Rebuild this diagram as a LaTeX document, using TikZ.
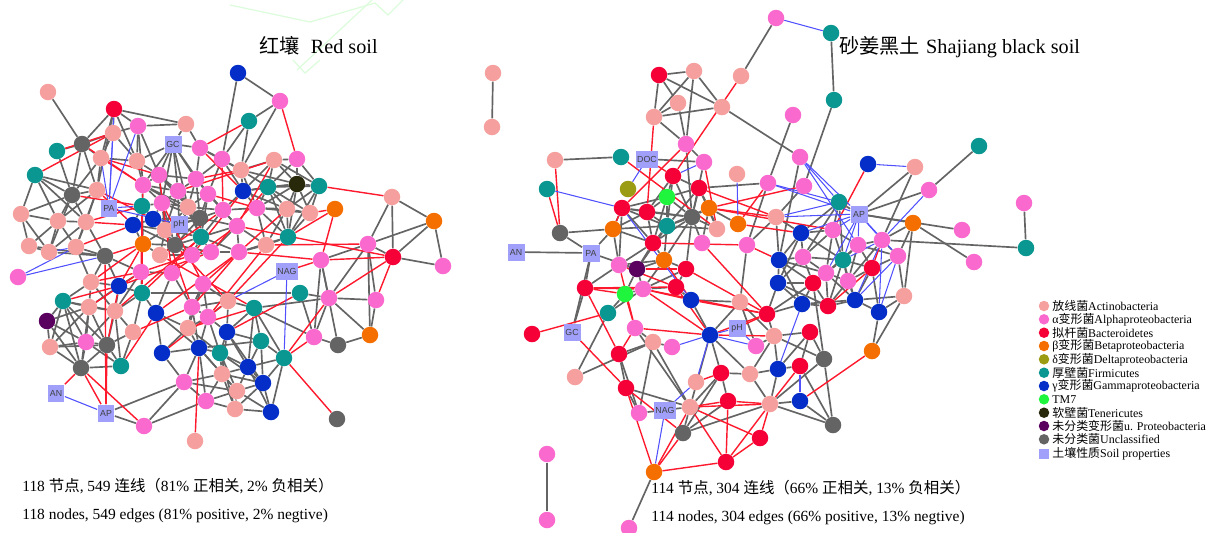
\documentclass[tikz,border=0pt]{standalone}
\usepackage{fontspec}
\setmainfont{Liberation Serif}
\newfontfamily\cjk{Noto Sans CJK SC}
\newfontfamily\arial{Liberation Sans}
\usetikzlibrary{backgrounds}
\definecolor{cAc}{RGB}{245,160,158}
\definecolor{cAl}{RGB}{250,105,205}
\definecolor{cBa}{RGB}{245,0,55}
\definecolor{cBe}{RGB}{245,110,0}
\definecolor{cDe}{RGB}{155,155,20}
\definecolor{cFi}{RGB}{10,150,145}
\definecolor{cGa}{RGB}{5,45,200}
\definecolor{cTM}{RGB}{30,245,60}
\definecolor{cTe}{RGB}{40,40,10}
\definecolor{cUP}{RGB}{90,0,95}
\definecolor{cUn}{RGB}{100,100,100}
\definecolor{cSP}{RGB}{160,160,250}
\definecolor{cEg}{RGB}{100,100,100}
\definecolor{cEr}{RGB}{255,25,45}
\definecolor{cEb}{RGB}{80,80,255}
\definecolor{cWm}{RGB}{220,252,220}
\begin{document}
\begin{tikzpicture}[x=0.02cm,y=-0.02cm,
  tx/.style={circle,minimum size=0.33cm,inner sep=0pt,draw=none},
  spbox/.style={rectangle,fill=cSP,minimum width=0.34cm,minimum height=0.34cm,inner sep=0.6pt,font=\arial\fontsize{5}{5}\selectfont,text=black!75},
  eg/.style={draw=cEg,line width=0.95pt},
  er/.style={draw=cEr,line width=0.8pt},
  eb/.style={draw=cEb,line width=0.6pt},
  ttl/.style={inner sep=0pt,font=\fontsize{11.5}{13}\selectfont},
  btx/.style={inner sep=0pt,font=\fontsize{8.8}{10}\selectfont},
  lgd/.style={circle,minimum size=0.21cm,inner sep=0pt,draw=none},
  lgt/.style={anchor=west,inner sep=0pt,font=\fontsize{6.8}{7}\selectfont},
  wm/.style={draw=cWm,line width=0.7pt}]
\useasboundingbox (0,0) rectangle (1214,532);
% faint watermark
\draw[wm] (230,5) -- (310,22) -- (375,3) -- (388,15) -- (403,0);
\draw[wm] (297,70) -- (372,0);
\draw[wm] (293,60) -- (305,73) -- (320,60);
% ---------- left network nodes ----------
\foreach \n/\c/\x/\y in {L1/cGa/238/73, L2/cAl/280/101, L3/cAc/48/92, L4/cBa/114/109, L5/cAl/138/126, L6/cAc/113/133, L7/cAc/186/124, L8/cFi/249/121, L9/cUn/82/144, L10/cFi/57/151, L12/cAl/200/148, L13/cAl/222/159, L14/cAc/101/158, L15/cAc/137/161, L16/cAc/241/170, L17/cAc/274/160, L18/cAl/297/159, L19/cFi/35/175, L20/cUn/72/195, L21/cAc/97/190, L22/cAl/143/185, L23/cAl/159/175, L24/cAl/178/191, L25/cAl/196/179, L26/cAl/208/194, L27/cGa/243/191, L28/cFi/268/187, L29/cTe/297/184, L30/cFi/319/186, L31/cAc/392/197, L33/cFi/142/206, L34/cAl/162/203, L35/cAc/188/207, L36/cAl/223/210, L37/cAl/257/208, L38/cAc/287/209, L39/cAc/310/213, L40/cBe/335/209, L41/cBe/434/221, L42/cAc/21/214, L43/cAc/58/221, L44/cAc/86/222, L45/cGa/133/225, L46/cGa/153/219, L48/cAc/165/230, L49/cUn/200/218, L50/cAl/237/226, L51/cFi/201/237, L52/cFi/288/237, L53/cBe/143/244, L54/cUn/175/245, L55/cAc/29/246, L56/cAc/49/252, L57/cAc/76/247, L58/cUn/105/256, L59/cAc/160/255, L60/cAl/192/255, L61/cAl/211/252, L62/cAl/239/252, L63/cAc/266/245, L64/cAl/368/244, L65/cBa/393/257, L66/cAl/321/260, L67/cAl/443/266, L68/cAl/18/277, L69/cAc/91/282, L70/cAl/141/272, L71/cAl/172/273, L72/cAl/203/284, L74/cGa/119/286, L75/cFi/142/293, L76/cFi/63/301, L77/cAc/89/307, L78/cAc/115/311, L79/cGa/156/313, L80/cAl/192/307, L81/cAc/228/301, L82/cFi/254/308, L83/cFi/300/293, L84/cAl/329/298, L85/cAl/376/300, L86/cUP/47/321, L87/cAc/133/332, L88/cAc/188/328, L89/cAl/208/317, L90/cGa/227/332, L91/cFi/261/341, L92/cAl/314/337, L93/cUn/338/345, L94/cBe/370/335, L95/cAc/50/347, L96/cAl/86/342, L97/cUn/107/345, L98/cGa/162/353, L99/cGa/199/348, L100/cFi/220/353, L101/cFi/284/358, L102/cUn/81/368, L103/cFi/121/366, L104/cGa/248/367, L105/cAc/222/374, L106/cGa/263/383, L107/cAl/184/382, L108/cAc/237/391, L109/cAl/206/401, L110/cAc/235/409, L111/cGa/271/412, L112/cUn/337/419, L115/cAl/144/426, L116/cAc/195/441}
  {\node[tx,fill=\c] (\n) at (\x,\y) {};}
\node[spbox] (LGC) at (173,144) {GC};
\node[spbox] (LPA) at (109,208) {PA};
\node[spbox] (LpH) at (179,224) {pH};
\node[spbox] (LNAG) at (287,271) {NAG};
\node[spbox] (LAN) at (56,393) {AN};
\node[spbox] (LAP) at (106,413) {AP};
% ---------- right network nodes ----------
\foreach \n/\c/\x/\y in {R1/cAl/776/18, R2/cFi/831/33, R3/cBa/659/75, R4/cAc/694/71, R5/cAc/741/76, R6/cAc/678/103, R7/cAc/654/117, R8/cAc/722/107, R9/cFi/834/100, R10/cAl/793/115, R11/cAl/686/144, R12/cAc/555/160, R13/cFi/621/157, R15/cAl/704/162, R16/cAl/800/157, R17/cGa/868/164, R18/cFi/979/146, R19/cAc/915/167, R20/cFi/547/189, R21/cDe/628/189, R22/cBa/673/176, R23/cTM/667/197, R24/cBa/699/188, R25/cAc/737/174, R26/cAl/768/183, R27/cAl/804/186, R28/cAl/929/190, R29/cAl/1024/203, R30/cBa/622/208, R31/cBa/647/212, R32/cUn/692/217, R33/cBe/709/208, R34/cFi/839/202, R36/cBe/613/229, R37/cFi/667/226, R38/cAc/717/229, R39/cBe/738/224, R40/cAc/776/217, R41/cGa/801/233, R42/cAl/833/230, R43/cBe/913/223, R44/cAl/962/230, R45/cUn/560/233, R46/cAl/882/240, R49/cBa/653/243, R50/cAl/702/243, R51/cAl/747/245, R52/cAl/858/245, R53/cFi/1026/248, R54/cAl/974/262, R55/cBe/664/260, R56/cAl/619/265, R57/cUP/637/269, R58/cBa/686/269, R59/cGa/779/260, R60/cAl/803/257, R61/cFi/843/260, R62/cAl/898/256, R63/cBa/872/268, R64/cBa/585/288, R65/cTM/625/294, R66/cAl/643/289, R67/cBa/676/287, R68/cGa/691/300, R69/cGa/778/283, R70/cBa/813/283, R71/cAl/826/273, R72/cAl/848/281, R73/cGa/855/300, R74/cGa/802/304, R75/cBa/828/306, R76/cGa/879/312, R77/cAc/904/296, R78/cAc/740/302, R79/cFi/608/313, R80/cBa/532/334, R82/cAl/635/328, R83/cAc/653/342, R84/cAl/672/347, R85/cGa/710/335, R87/cBa/767/314, R88/cAl/756/346, R89/cAc/774/336, R90/cBa/810/332, R91/cUn/824/359, R92/cBe/872/351, R93/cBa/619/354, R94/cAc/575/377, R95/cBa/626/388, R96/cAc/696/382, R97/cBa/721/373, R98/cAc/750/374, R99/cGa/778/369, R100/cBa/800/366, R101/cGa/800/401, R102/cBa/728/401, R103/cAc/690/407, R104/cAc/770/404, R105/cAl/639/413, R107/cUn/683/433, R108/cUn/833/425, R109/cBa/760/438, R110/cBa/726/462, R111/cBe/654/472, R112/cAl/547/454, R113/cAl/547/520, R114/cAl/629/528, P1/cAc/493/73, P2/cAc/492/127}
  {\node[tx,fill=\c] (\n) at (\x,\y) {};}
\node[spbox] (RDOC) at (647,159) {DOC};
\node[spbox] (RAP) at (859,214) {AP};
\node[spbox] (RAN) at (516,252) {AN};
\node[spbox] (RPA) at (591,253) {PA};
\node[spbox] (RGC) at (572,332) {GC};
\node[spbox] (RpH) at (737,328) {pH};
\node[spbox] (RNAG) at (665,410) {NAG};
% ---------- edges ----------
\begin{pgfonlayer}{background}
% left gray
\foreach \s/\tl in {L1/{L2,L13}, L2/{L8,L16}, L3/{L9}, L4/{L5,L6,L9,L14,L15,L7,L21}, L5/{L7,L15,L22,L6,L23}, L6/{L9,L14,L15}, L7/{LGC,L12}, L8/{L16,L13}, L9/{L20,L21,L10,L14}, L10/{L20}, L19/{L20,L42,L43,L21,L44}, L20/{L42,L43,L44,L21,L14,L56}, L21/{L43,L44,L14,L57}, L42/{L43,L55,L56}, L43/{L56,L57,L44,L55}, L44/{L57,L58,L56}, L55/{L56,L58}, L56/{L58}, L57/{L58,L69}, LGC/{L22,L23,L24,L25,L12,L26,L15,L34,L35}, L12/{L13,L25,L16}, L13/{L16,L25,L26,L27}, L14/{L15}, L15/{L22,L23}, L22/{L23,L24,L33,L34,L35,L49}, L23/{L24,L25,L34,L49,L35}, L24/{L25,L26,L34,L35,L49,L48,L51}, L25/{L26,L35,L49,L36}, L26/{L35,L36,L49,L51,L50}, L33/{L34,L45,L46,L48,L53}, L34/{L35,L46,L48,L49,L54}, L35/{L36,L49,L51,L48,L54}, L36/{L49,L50,L51,L37}, L45/{L46,L53,L48,L54}, L46/{L48,L49,L54}, L48/{L49,L51,L54,L53,L59}, L49/{L50,L51,L54}, L50/{L51,L62,L61}, L51/{L54,L60,L61,L62}, L53/{L54,L59}, L54/{L59,L60,L61}, L59/{L60}, L60/{L61}, L61/{L62}, LpH/{L46,L48,L49,L24,L35,L51,L54}, L16/{L17,L27,L28,L29,L37}, L17/{L28,L29,L27,L30,L18}, L18/{L29,L30,L28}, L27/{L28,L29,L37,L38,L36}, L28/{L29,L30,L37,L38,L39,L52}, L29/{L30,L38,L39,L37,L52}, L30/{L38,L39,L52}, L37/{L38,L52,L63,L39}, L38/{L39,L52,L63}, L39/{L52}, L52/{L63,L62}, L63/{L62,L50}, L31/{L41,L64,L65}, L41/{L64,L67,L65}, L64/{L65,L84,L85,L94,L66}, L85/{L94,L84}, L84/{L94,L92,L66}, L66/{L92,L93}, L92/{L93}, L93/{L94}, L67/{L65}, L58/{L69,L70,L74}, L69/{L74,L76,L77,L78}, L70/{L74,L75,L78,L71}, L74/{L75,L78,L77}, L75/{L78,L79,L87,L83}, L76/{L77,L86,L95,L96,L97,L102,L78}, L77/{L78,L86,L95,L96,L97,L102}, L78/{L87,L96,L97,L103}, L86/{L95,L96,L102}, L95/{L96,L102,L97}, L96/{L97,L102,L103}, L97/{L102,L103,L87}, L102/{L103}, L87/{L103}, L72/{L80,L81,L89,L88}, L71/{L79,L80}, L79/{L98,L88,L99}, L80/{L81,L88,L89,L99}, L81/{L82,L89,L90}, L82/{L90,L91,L104,L101,L84,L92}, L88/{L89,L99,L100,L98}, L89/{L90,L99,L100}, L90/{L91,L100,L104,L105,L106}, L91/{L101,L104,L106,L99}, L98/{L99,L107}, L99/{L100,L105,L107,L108,L109}, L100/{L104,L105,L106,L108,L110}, L101/{L104,L106,L111}, L104/{L105,L106,L108,L111}, L105/{L106,L108,L109,L110,L107}, L106/{L108,L111,L110}, L107/{L108,L109,LAP,L115}, L108/{L109,L110,L111}, L109/{L110,L115}, L110/{L111}, L83/{L92,L84}, LAP/{L115}}
  {\foreach \t in \tl {\draw[eg] (\s) -- (\t);}}
% left red
\foreach \s/\tl in {L2/{L18}, L8/{L12}, L19/{L6}, L14/{L22,L23}, L9/{L22}, L21/{L45}, L44/{L45,L33}, L57/{L45}, L58/{L53}, L69/{L53,L70}, L76/{L74}, L77/{L70}, L97/{L74}, L50/{L65,L17}, L30/{L31}, L65/{L84,L66,L85}, L63/{L64}, L62/{L38,L66}, L61/{L28}, L60/{L27}, L59/{L36}, L71/{L50}, L72/{L62}, L80/{L62}, L81/{L52}, L89/{L63}, L75/{L51}, L70/{L60}, L74/{L61}, L78/{L51}, L79/{L62}, L87/{L80}, L98/{L81}, L103/{L79}, L88/{L82}, L90/{L83}, L101/{L84,L92,L112}, L12/{L27}, L13/{L36}, L25/{L16}, L26/{L37}, L24/{L17}, L22/{L70}, L23/{L71}, L34/{L72}, L33/{L75}, L53/{L74}, L48/{L80}, L59/{L82}, L54/{L81}, L40/{L39,L66,L52}, L102/{LAN,LAP,L115}, L97/{LAP}, L58/{LAP}, L116/{L99}, L66/{LNAG}, L46/{L21}, L20/{L33}, L10/{L6}}
  {\foreach \t in \tl {\draw[er] (\s) -- (\t);}}
% left blue
\foreach \s/\tl in {L4/{LPA}, L5/{LPA}, L6/{LPA}, L14/{LPA}, LPA/{L33,LpH}, L68/{L58,L57}, LAN/{LAP}, LNAG/{L81,L101}, L56/{L57}}
  {\foreach \t in \tl {\draw[eb] (\s) -- (\t);}}
% right gray
\foreach \s/\tl in {R1/{R5}, R2/{R9}, R3/{R4,R7,R6,R8}, R4/{R7,R8,R11}, R6/{R7,R11}, R7/{R8,R11}, R8/{R16}, R9/{R27}, R10/{R26}, R11/{R15,R32}, R12/{R13}, R15/{RDOC,R32}, R16/{R59}, R18/{R28}, R19/{R46}, R28/{RAP}, R29/{R53}, R44/{RAP}, R53/{R46}, R54/{R43}, R32/{R22,R23,R24,R30,R31,R33,R37,R38,R49,R55,R58,R50}, R22/{R23,R24,R31,R37}, R23/{R24,R31,R37,R30,R49}, R24/{R33,R37,R38}, R30/{R31,R36,R37,R49,R56}, R31/{R37,R49,R36}, R33/{R37,R38,R39,R50}, R36/{R37,R49,R45,R56}, R37/{R49,R55,R57,R38}, R49/{R55,R56,R57}, R55/{R57,R58,R56,R66}, R56/{R57,R64}, R57/{R65,R66}, R58/{R67,R66}, R65/{R66,R79}, R66/{R67}, R67/{R68}, R45/{RPA}, RAN/{RPA}, RPA/{R64,RGC,R36,R57}, RGC/{R64}, R79/{R94,R66}, R82/{R83,R103}, R83/{R103,R84,R105}, R93/{R95,R105,R83}, R95/{R105,R103}, R94/{R83}, R85/{R68,R97,R98,R103}, R103/{RNAG,R97,R107}, RNAG/{R105}, R107/{R97,R102,R104}, R104/{R108,R99,R98,R91}, R97/{R98,R102}, R98/{R99,R89}, R99/{R100,R90,R89}, R100/{R90,R108}, R101/{R104,R108}, R91/{R90,R108,R89,R70}, R88/{R89,R78}, R89/{R90,R78,R87}, R87/{R69,R70,R74}, R78/{R68,R51,R85}, RAP/{R34,R43,R19}, R34/{R41,R42,R60,R61}, R40/{R41,R59,R51}, R41/{R42,R59,R60,R61,R69}, R42/{R52,R60,R61,R71}, R46/{R52,R62,R72,R43}, R52/{R61,R62,R63,R72,R71}, R59/{R60,R69,R70,R74,R71}, R60/{R61,R71,R69,R70}, R61/{R71,R72,R73,R63,R75}, R62/{R63,R77}, R63/{R72,R73,R76}, R69/{R70,R74,R75}, R70/{R71,R74,R75}, R71/{R72,R75,R73}, R72/{R73,R75}, R73/{R75,R76,R77,R74}, R74/{R75}, R76/{R92,R77}, R43/{R62,R77}, R92/{R77}, R112/{R113}, R111/{R114}, P1/{P2}, R26/{R24,R51}, R27/{R40}}
  {\foreach \t in \tl {\draw[eg] (\s) -- (\t);}}
% right red
\foreach \s/\tl in {R5/{R22}, R7/{R31}, R11/{R30}, R12/{R45}, R13/{R38}, R15/{R38}, R17/{R42}, R20/{R45}, R26/{R39}, R27/{R33}, RDOC/{R22}, R46/{R63}, R63/{R75}, R92/{R101}, R80/{R79}, RGC/{R95}, R95/{R107,R111}, R64/{R65,R66,R67,R93}, R65/{R82}, R66/{R68,R85,R87}, R67/{R85}, R56/{R82,R67}, R57/{R58}, R58/{R87}, R55/{R68}, R82/{R85,R93}, R85/{R87,R89}, R103/{R102,R109,R104,R110,R111}, R107/{R111}, R104/{R102,R109,R110,R100}, R110/{R109,R111,R102}, R97/{R96}, R87/{RpH}, R50/{R87}, R33/{R40,R42}, R39/{R41}, R51/{R59}, R49/{R51}, R30/{R36}, R68/{R87}, R24/{R40}}
  {\foreach \t in \tl {\draw[er] (\s) -- (\t);}}
% right blue
\foreach \s/\tl in {R1/{R2}, R16/{R34,RAP,R52}, R17/{R19}, R28/{R46}, R25/{R39}, R21/{RDOC}, R20/{R30}, R30/{R68}, R22/{R15}, RAP/{R42,R46,R52,R61,R62,R41,R40,R71,R26}, R34/{R40,R26}, R46/{R61,R73,R76}, R62/{R73,R76}, R84/{R85}, R85/{RpH,R96}, R88/{RpH,R85}, R99/{R74}, R100/{R101}, RNAG/{R111,R96}}
  {\foreach \t in \tl {\draw[eb] (\s) -- (\t);}}
\end{pgfonlayer}
% ---------- titles and captions ----------
\node[ttl,anchor=base west] (ttlL) at (259,53) {{\cjk 红壤}\hspace{0.55em}Red soil};
\node[ttl,anchor=base west] (ttlR) at (839,53) {{\cjk 砂姜黑土}\hspace{0.3em}Shajiang black soil};
\node[btx,anchor=base west] (capL1) at (22,491) {118 {\cjk 节点}, 549 {\cjk 连线（}81\% {\cjk 正相关}, 2\% {\cjk 负相关）}};
\node[btx,anchor=base west] (capL2) at (22,519) {118 nodes, 549 edges (81\% positive, 2\% negtive)};
\node[btx,anchor=base west] (capR1) at (651,493) {114 {\cjk 节点}, 304 {\cjk 连线（}66\% {\cjk 正相关}, 13\% {\cjk 负相关）}};
\node[btx,anchor=base west] (capR2) at (651,521) {114 nodes, 304 edges (66\% positive, 13\% negtive)};
% ---------- legend ----------
\node[lgd,fill=cAc] (g1) at (1044,306) {};   \node[lgt] (h1) at (1052,306) {{\cjk 放线菌}Actinobacteria};
\node[lgd,fill=cAl] (g2) at (1044,319.3) {}; \node[lgt] (h2) at (1052,319.3) {α{\cjk 变形菌}Alphaproteobacteria};
\node[lgd,fill=cBa] (g3) at (1044,332.7) {}; \node[lgt] (h3) at (1052,332.7) {{\cjk 拟杆菌}Bacteroidetes};
\node[lgd,fill=cBe] (g4) at (1044,346) {};   \node[lgt] (h4) at (1052,346) {β{\cjk 变形菌}Betaproteobacteria};
\node[lgd,fill=cDe] (g5) at (1044,359.3) {}; \node[lgt] (h5) at (1052,359.3) {δ{\cjk 变形菌}Deltaproteobacteria};
\node[lgd,fill=cFi] (g6) at (1044,372.7) {}; \node[lgt] (h6) at (1052,372.7) {{\cjk 厚壁菌}Firmicutes};
\node[lgd,fill=cGa] (g7) at (1044,386) {};   \node[lgt] (h7) at (1052,386) {γ{\cjk 变形菌}Gammaproteobacteria};
\node[lgd,fill=cTM] (g8) at (1044,399.3) {}; \node[lgt] (h8) at (1052,399.3) {TM7};
\node[lgd,fill=cTe] (g9) at (1044,412.7) {}; \node[lgt] (h9) at (1052,412.7) {{\cjk 软壁菌}Tenericutes};
\node[lgd,fill=cUP] (g10) at (1044,426) {};  \node[lgt] (h10) at (1052,426) {{\cjk 未分类变形菌}u. Proteobacteria};
\node[lgd,fill=cUn] (g11) at (1044,439.3) {};\node[lgt] (h11) at (1052,439.3) {{\cjk 未分类菌}Unclassified};
\node[rectangle,fill=cSP,minimum size=0.21cm,inner sep=0pt] (g12) at (1044,454) {}; \node[lgt] (h12) at (1052,454) {{\cjk 土壤性质}Soil properties};
\end{tikzpicture}
\end{document}
